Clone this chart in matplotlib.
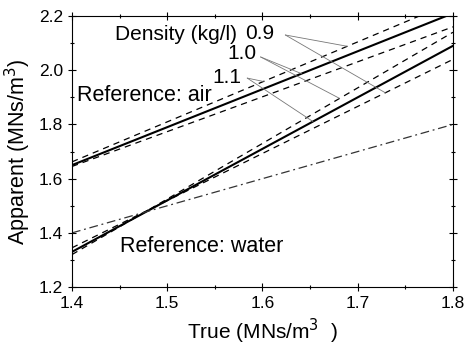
import matplotlib.pyplot as plt
from matplotlib.ticker import MultipleLocator
import numpy as np

plt.rcParams['font.family'] = ['Liberation Sans', 'DejaVu Sans']

# true impedance (x) and apparent impedance for each line
true_z = [1.4, 1.6, 1.8]

air_solid = [1.650, 1.930, 2.210]
air_hi = [1.662, 1.957, 2.252]
air_lo = [1.645, 1.902, 2.160]

water_solid = [1.330, 1.710, 2.090]
water_hi = [1.320, 1.730, 2.140]
water_lo = [1.345, 1.693, 2.040]

ref_line = [1.40, 1.60, 1.80]

dens_labels = ['0.9', '1.0', '1.1']

fig = plt.figure(figsize=(4.66, 3.48), dpi=100)
ax = fig.add_axes([0.1545, 0.175, 0.8175, 0.779])

ax.plot(true_z, air_solid, color='black', lw=1.5)
ax.plot(true_z, air_hi, color='black', lw=0.9, ls=(0, (5, 4)))
ax.plot(true_z, air_lo, color='black', lw=0.9, ls=(0, (5, 4)))
ax.plot(true_z, water_solid, color='black', lw=1.5)
ax.plot(true_z, water_hi, color='black', lw=0.9, ls=(0, (5, 4)))
ax.plot(true_z, water_lo, color='black', lw=0.9, ls=(0, (5, 4)))
ax.plot(true_z, ref_line, color='#333333', lw=0.9, ls=(0, (7, 3, 1.5, 3)))

# leader lines from each density label to the curves
anchors = [(1.624, 2.130), (1.598, 2.049), (1.584, 1.971)]
targets = [[(air_hi, 1.689), (water_lo, 1.729)],
           [(air_solid, 1.641), (water_hi, 1.681)],
           [(air_hi, 1.601), (water_solid, 1.653)]]
for (ax0, ay0), tg in zip(anchors, targets):
    for series, tx in tg:
        ty = np.interp(tx, true_z, series)
        ax.annotate('', xy=(tx, ty), xytext=(ax0, ay0),
                    arrowprops=dict(arrowstyle='-', color='#777777', lw=0.6,
                                    shrinkA=0, shrinkB=0))

fs = 15
ax.text(1.445, 2.133, 'Density (kg/l)', fontsize=fs, va='center', ha='left')
ax.text(1.582, 2.137, dens_labels[0], fontsize=fs, va='center', ha='left')
ax.text(1.563, 2.063, dens_labels[1], fontsize=fs, va='center', ha='left')
ax.text(1.547, 1.975, dens_labels[2], fontsize=fs, va='center', ha='left')
ax.text(1.405, 1.908, 'Reference: air', fontsize=15.5, va='center', ha='left')
ax.text(1.450, 1.351, 'Reference: water', fontsize=15.5, va='center', ha='left')

ax.set_xlim(1.4, 1.8)
ax.set_ylim(1.2, 2.2)
ax.xaxis.set_major_locator(MultipleLocator(0.1))
ax.xaxis.set_minor_locator(MultipleLocator(0.05))
ax.yaxis.set_major_locator(MultipleLocator(0.2))
ax.yaxis.set_minor_locator(MultipleLocator(0.1))
ax.tick_params(which='both', top=True, right=True, direction='inout',
               labelsize=12.5, width=0.8)
ax.tick_params(which='major', length=6)
ax.tick_params(which='minor', length=3)
for s in ax.spines.values():
    s.set_linewidth(0.8)

ax.set_xlabel('True (MNs/m$^3$  )', fontsize=15)
ax.set_ylabel('Apparent (MNs/m$^3$)', fontsize=15.5, labelpad=4)

fig.savefig('out.png', dpi=100)
